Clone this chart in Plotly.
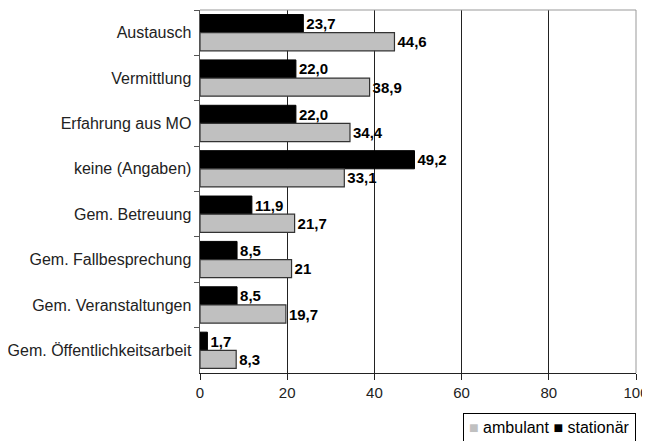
import plotly.graph_objects as go

categories = ["Austausch", "Vermittlung", "Erfahrung aus MO", "keine (Angaben)",
              "Gem. Betreuung", "Gem. Fallbesprechung", "Gem. Veranstaltungen",
              "Gem. Öffentlichkeitsarbeit"]
ambulant = [44.6, 38.9, 34.4, 33.1, 21.7, 21, 19.7, 8.3]
ambulant_labels = ["44,6", "38,9", "34,4", "33,1", "21,7", "21", "19,7", "8,3"]
stationaer = [23.7, 22.0, 22.0, 49.2, 11.9, 8.5, 8.5, 1.7]
stationaer_labels = ["23,7", "22,0", "22,0", "49,2", "11,9", "8,5", "8,5", "1,7"]
x_ticks = [0, 20, 40, 60, 80, 100]

font_family = "Liberation Sans, Arial, sans-serif"
amb_color = "#c0c0c0"

fig = go.Figure()
fig.add_trace(go.Bar(
    y=categories, x=stationaer, orientation="h", name="stationär",
    marker=dict(color="#000000", line=dict(color="#000000", width=1)),
    text=stationaer_labels, textposition="outside", cliponaxis=False,
    textfont=dict(family=font_family, size=15, color="#000000", weight="bold"),
))
fig.add_trace(go.Bar(
    y=categories, x=ambulant, orientation="h", name="ambulant",
    marker=dict(color=amb_color, line=dict(color="#333333", width=1.2)),
    text=ambulant_labels, textposition="outside", cliponaxis=False,
    textfont=dict(family=font_family, size=15, color="#000000", weight="bold"),
))

fig.update_layout(
    width=650, height=441,
    margin=dict(l=192, r=22, t=2, b=76, autoexpand=False),
    paper_bgcolor="white", plot_bgcolor="white",
    barmode="group", bargap=0.2, bargroupgap=0,
    font=dict(family=font_family, size=15, color="#222222"),
    showlegend=False,
    xaxis=dict(range=[0, 100], tickvals=x_ticks, showgrid=True, gridcolor="#222222",
               gridwidth=1, ticks="outside", ticklen=6, tickcolor="#222222",
               showline=True, linecolor="#222222", linewidth=1, zeroline=False,
               automargin=False, tickfont=dict(size=15, color="#222222")),
    yaxis=dict(autorange="reversed", ticks="outside", tickson="boundaries",
               ticklen=5, tickcolor="#555555", showline=True, linecolor="#555555",
               linewidth=1, showgrid=False, ticksuffix=" ",
               automargin=False, tickfont=dict(size=16, color="#222222")),
    shapes=[dict(type="line", xref="paper", yref="paper", x0=0, x1=1, y0=1, y1=1,
                 line=dict(color="#999999", width=1)),
            dict(type="line", xref="paper", yref="paper", x0=1, x1=1, y0=0, y1=1,
                 line=dict(color="#999999", width=1))],
    annotations=[dict(
        xref="paper", yref="paper", x=1, y=-0.11, xanchor="right", yanchor="top",
        text=f"<span style='color:{amb_color}'>■</span> ambulant ■ stationär",
        showarrow=False, bordercolor="#000000", borderwidth=1, borderpad=5,
        bgcolor="white", font=dict(family=font_family, size=16, color="#000000"),
    )],
)

fig.write_html("out.html")
